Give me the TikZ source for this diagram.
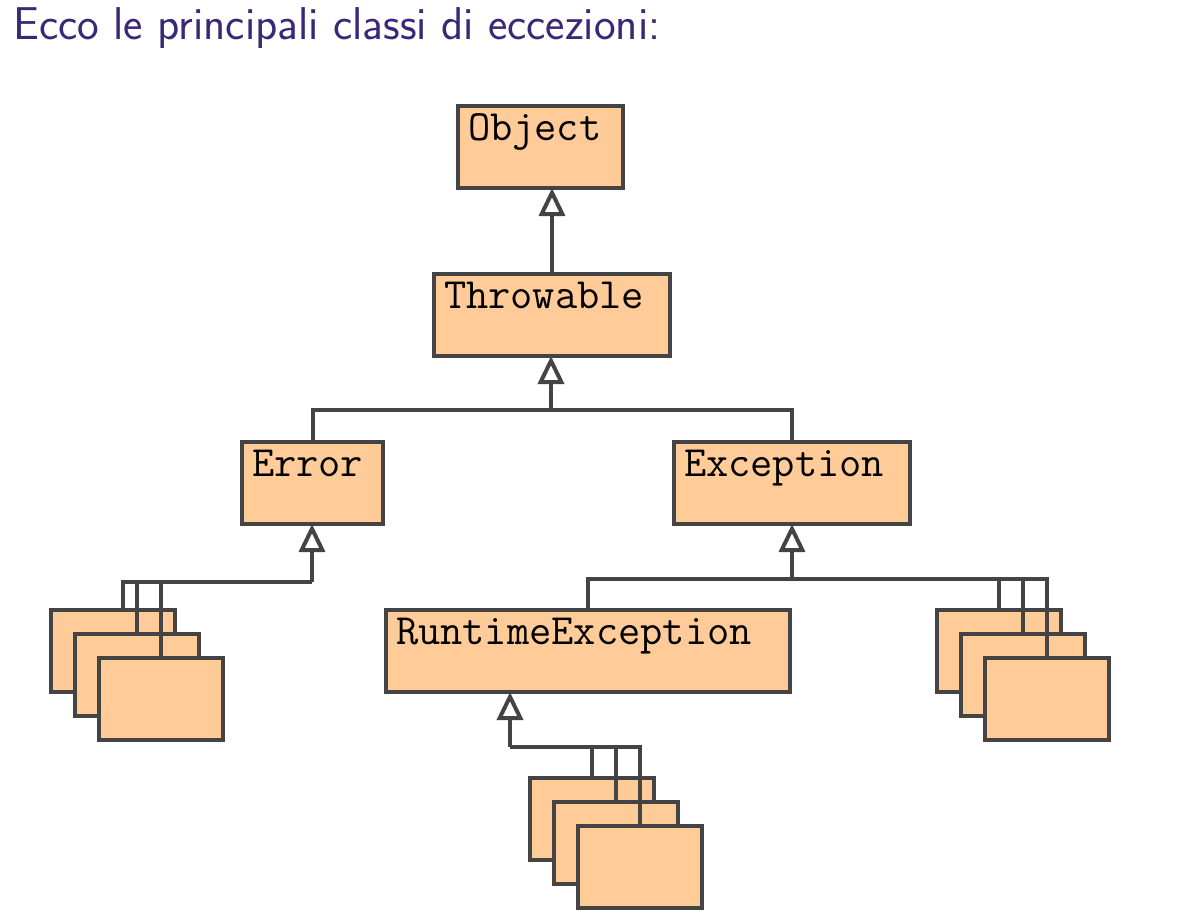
\documentclass[tikz,border=0pt]{standalone}
\usepackage{fontspec}
\usepackage{tikz}
\usetikzlibrary{arrows.meta}
\definecolor{peach}{RGB}{255,204,153}
\definecolor{edgegray}{RGB}{68,68,68}
\definecolor{titleblue}{RGB}{56,40,118}

\begin{document}
\begin{tikzpicture}
    [x=0.5pt, y=-0.5pt,
 cls/.style ={rectangle, draw=edgegray, line width=2pt, fill=peach, anchor=north west, outer sep=0pt, inner xsep=5pt, inner ysep=0pt, text height=17pt, text depth=24pt, align=left, font=\fontsize{21.6}{22}\selectfont\ttfamily},
 sub/.style ={cls, text width=52pt},
 link/.style ={draw=edgegray, line width=2pt},
 inh/.style ={link, -{Triangle[open, length=14pt, width=13pt]}}]
    \useasboundingbox (0,0) rectangle (1180,918);
    \node[anchor=base west, inner sep=0pt, text=titleblue, font=\fontsize{23}{26}\selectfont\sffamily] (title) at (13,39) {Ecco le principali classi di eccezioni:};

    \node[cls, text width=72.5pt] (obj) at (458,106) {Object};
    \node[cls, text width=108pt] (thr) at (434,274) {Throwable};
    \node[cls, text width=60.5pt] (err) at (242,442) {Error};
    \node[cls, text width=108pt] (exc) at (674,442) {Exception};
    \node[cls, text width=192pt] (rte) at (386,610) {RuntimeException};

    \node[sub] (l1) at (51,610) {};
    \node[sub] (l2) at (75,634) {};
    \node[sub] (l3) at (99,658) {};
    \node[sub] (r1) at (937,610) {};
    \node[sub] (r2) at (961,634) {};
    \node[sub] (r3) at (985,658) {};
    \node[sub] (b1) at (530,778) {};
    \node[sub] (b2) at (554,802) {};
    \node[sub] (b3) at (578,826) {};

    \draw[inh] (thr.north) -- (thr.north |- obj.south);

    \coordinate (tbus) at (551,410);
    \draw[link] (err.north) |- (tbus) -| (exc.north);
    \draw[inh] (tbus) -- (tbus |- thr.south);

    \coordinate (ebus) at (312,582);
    \draw[inh] (ebus) -- (ebus |- err.south);
    \draw[link] (ebus) -| ([xshift=5pt]l1.north);
    \draw[link] (l2.north) -- (l2.north |- ebus);
    \draw[link] (l3.north) -- (l3.north |- ebus);

    \coordinate (xbus) at (792,579);
    \draw[inh] (xbus) -- (xbus |- exc.south);
    \draw[link] (rte.north) |- (xbus) -| (r3.north);
    \draw[link] (r1.north) -- (r1.north |- xbus);
    \draw[link] (r2.north) -- (r2.north |- xbus);

    \coordinate (rbus) at (510,747);
    \draw[inh] (rbus) -- (rbus |- rte.south);
    \draw[link] (rbus) -| (b3.north);
    \draw[link] (b1.north) -- (b1.north |- rbus);
    \draw[link] (b2.north) -- (b2.north |- rbus);
\end{tikzpicture}
\end{document}
